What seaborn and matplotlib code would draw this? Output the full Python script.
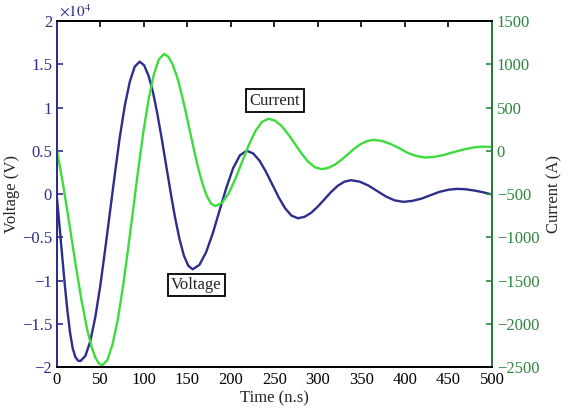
import numpy as np
import pandas as pd
import matplotlib
matplotlib.use('Agg')
import matplotlib.pyplot as plt
from matplotlib.ticker import FuncFormatter
import seaborn as sns

# values (voltage in units of 1e4 V)
volt_t = [0, 3, 6, 9, 12, 15, 18, 21, 24, 27,
          32.7, 38.3, 44, 49.7, 55.3, 61, 66.7, 72.3, 78, 83.7, 89.3, 95,
          100.1, 105.2, 110.3, 115.3, 120.4, 125.5, 130.6, 135.7, 140.8, 145.8, 150.9, 156,
          163.8, 171.5, 179.3, 187, 194.8, 202.5, 210.3, 218,
          225.4, 232.8, 240.1, 247.5, 254.9, 262.3, 269.6, 277,
          284.6, 292.3, 299.9, 307.5, 315.1, 322.8, 330.4, 338,
          348, 358, 368, 378, 388, 398, 408, 419, 429, 439, 450, 460,
          470, 480, 490, 500]
volt_v = [-0.05, -0.38, -0.72, -1.05, -1.35, -1.60, -1.78, -1.88, -1.925, -1.93,
          -1.87, -1.70, -1.425, -1.065, -0.646, -0.20, 0.246, 0.665, 1.025, 1.298, 1.471, 1.53,
          1.489, 1.369, 1.18, 0.93, 0.64, 0.33, 0.02, -0.27, -0.52, -0.709, -0.829, -0.87,
          -0.818, -0.67, -0.447, -0.185, 0.077, 0.30, 0.448, 0.50,
          0.470, 0.386, 0.259, 0.11, -0.039, -0.166, -0.25, -0.28,
          -0.263, -0.216, -0.144, -0.06, 0.024, 0.096, 0.143, 0.16,
          0.143, 0.098, 0.035, -0.028, -0.073, -0.09, -0.08, -0.053, -0.015, 0.023, 0.05, 0.06,
          0.055, 0.04, 0.02, -0.005]
volt_v = [v * 1e4 for v in volt_v]

curr_t = [0, 7, 14, 21, 28, 35, 40, 44, 48, 52,
          57.9, 63.8, 69.8, 75.7, 81.6, 87.5, 93.4, 99.3, 105.3, 111.2, 117.1, 123,
          127.9, 132.8, 137.8, 142.7, 147.6, 152.5, 157.4, 162.3, 167.3, 172.2, 177.1, 182,
          189.6, 197.3, 204.9, 212.5, 220.1, 227.8, 235.4, 243,
          250.6, 258.3, 265.9, 273.5, 281.1, 288.8, 296.4, 304,
          311.5, 319, 326.5, 334, 341.5, 349, 356.5, 364,
          374, 384, 394, 403, 413, 423, 434, 445, 456, 468, 479, 490, 500]
curr_a = [0, -389, -832, -1289, -1720, -2079, -2275, -2388, -2457, -2480,
          -2419, -2239, -1955, -1580, -1145, -681, -217, 219, 593, 877, 1057, 1118,
          1088, 1000, 861, 678, 466, 239, 12, -201, -383, -522, -610, -640,
          -602, -493, -328, -135, 58, 223, 332, 370,
          348, 285, 190, 79, -32, -127, -190, -212,
          -199, -163, -108, -43, 22, 77, 113, 126,
          113, 76, 27, -24, -60, -78, -70, -47, -15, 16, 39, 48, 44]

volt = pd.DataFrame({'t': volt_t, 'v': volt_v})
curr = pd.DataFrame({'t': curr_t, 'a': curr_a})

sns.set_style('white')
plt.rcParams['font.family'] = ['Liberation Serif', 'DejaVu Serif']
plt.rcParams['mathtext.fontset'] = 'stix'

navy = '#2d2d8c'
lime = '#3ddc3d'
dgreen = '#2e8540'

fig = plt.figure(figsize=(5.71, 4.20), dpi=100)
ax = fig.add_axes([0.0998, 0.126, 0.7618, 0.824])
ax2 = ax.twinx()

sns.lineplot(data=volt, x='t', y='v', ax=ax, color=navy, lw=1.7)
sns.lineplot(data=curr, x='t', y='a', ax=ax2, color=lime, lw=1.7)

ax.set_xlim(0, 500)
ax.set_ylim(-20000, 20000)
ax2.set_ylim(-2500, 1500)
ax.set_xticks(np.arange(0, 501, 50))
ax.set_yticks(np.arange(-20000, 20001, 5000))
ax2.set_yticks(np.arange(-2500, 1501, 500))
ax.yaxis.set_major_formatter(FuncFormatter(lambda v, p: f'{v/1e4:g}'.replace('-', '\u2212')))
ax2.yaxis.set_major_formatter(FuncFormatter(lambda v, p: f'{v:g}'.replace('-', '\u2212')))

fs = 12
ax.tick_params(axis='x', direction='in', top=True, length=4, width=1.2, labelsize=fs, colors='black')
ax.tick_params(axis='y', direction='in', length=4, width=1.2, labelsize=fs, colors=navy)
ax2.tick_params(axis='y', direction='in', length=4, width=1.2, labelsize=fs, colors=dgreen)
for a in (ax, ax2):
    for s in a.spines.values():
        s.set_linewidth(1.3)
        s.set_color('black')
ax.spines['left'].set_color(navy)
ax2.spines['left'].set_color(navy)
ax2.spines['right'].set_color(dgreen)

ax.set_xlabel('Time (n.s)', fontsize=fs, labelpad=2)
ax.set_ylabel('Voltage (V)', fontsize=fs, labelpad=1)
ax2.set_ylabel('Current (A)', fontsize=fs, labelpad=5)
ax.text(0.005, 1.004, r'$\times10^4$', transform=ax.transAxes, fontsize=11,
        color=navy, va='bottom', ha='left')

box = dict(boxstyle='square,pad=0.2', fc='white', ec='black', lw=1.3)
ax.text(250.5, 10800, 'Current', fontsize=fs, ha='center', va='center', bbox=box)
ax.text(160, -10500, 'Voltage', fontsize=fs, ha='center', va='center', bbox=box)

plt.savefig('out.png', dpi=100)
